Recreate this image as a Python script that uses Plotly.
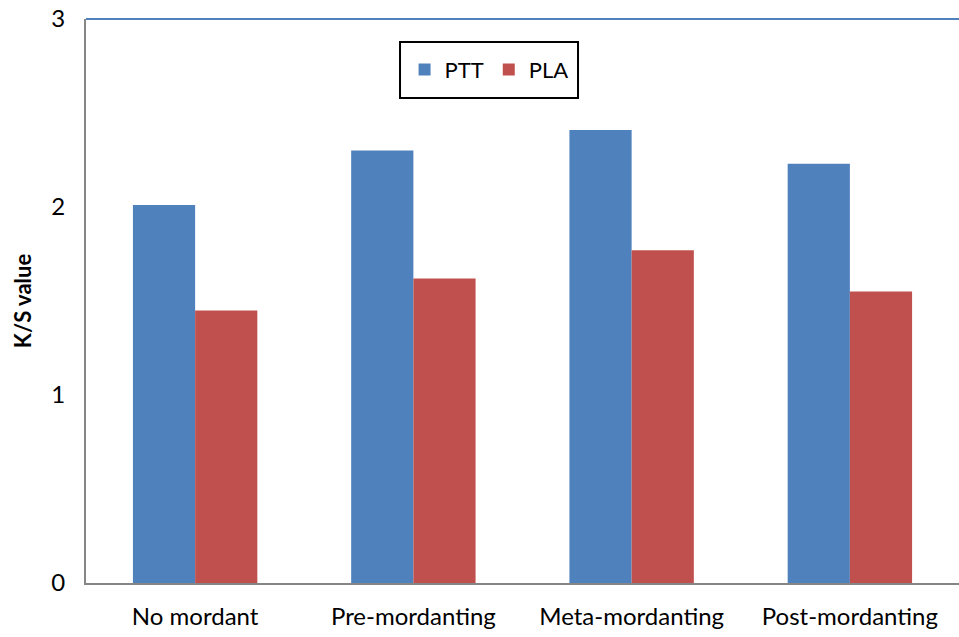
import plotly.graph_objects as go

categories = ["No mordant", "Pre-mordanting", "Meta-mordanting", "Post-mordanting"]
ptt_values = [2.01, 2.30, 2.41, 2.23]
pla_values = [1.45, 1.62, 1.77, 1.55]
y_ticks = [0, 1, 2, 3]

FONT = "Lato, 'Open Sans', sans-serif"

fig = go.Figure()
fig.add_trace(go.Bar(name="PTT", x=categories, y=ptt_values,
                     marker=dict(color="#4F81BD", line=dict(width=0))))
fig.add_trace(go.Bar(name="PLA", x=categories, y=pla_values,
                     marker=dict(color="#C0504D", line=dict(width=0))))

fig.update_layout(
    width=959, height=637,
    margin=dict(l=86, r=0, t=19, b=54),
    paper_bgcolor="white", plot_bgcolor="white",
    barmode="group", bargap=0.43, bargroupgap=0,
    font=dict(family=FONT, size=24, color="black"),
    showlegend=True,
    legend=dict(
        orientation="h", x=0.4617, y=0.91, xanchor="center", yanchor="middle",
        borderwidth=0, bgcolor="rgba(0,0,0,0)",
        font=dict(family=FONT, size=22, color="black"),
        itemwidth=30, traceorder="normal",
    ),
    xaxis=dict(
        showline=True, linecolor="#868686", linewidth=2,
        ticks="", showgrid=False, tickfont=dict(size=24),
        ticklabelstandoff=11,
    ),
    yaxis=dict(
        range=[0, 3], tickvals=y_ticks, showline=True, linecolor="#868686",
        linewidth=2, ticks="", showgrid=False, zeroline=False,
        tickfont=dict(size=24), ticklabelstandoff=14,
        title=dict(text="<b>K/S value</b>", font=dict(size=22), standoff=14),
    ),
)

# blue frame line along the top of the plotting area
fig.add_shape(type="line", xref="paper", yref="paper", x0=0, x1=1, y0=1, y1=1,
              line=dict(color="#4F81BD", width=2))

# legend frame
fig.add_shape(type="rect", xref="paper", yref="paper",
              x0=0.3597, x1=0.5636, y0=0.860, y1=0.959,
              line=dict(color="black", width=2), fillcolor="rgba(0,0,0,0)")

fig.write_html("out.html")
